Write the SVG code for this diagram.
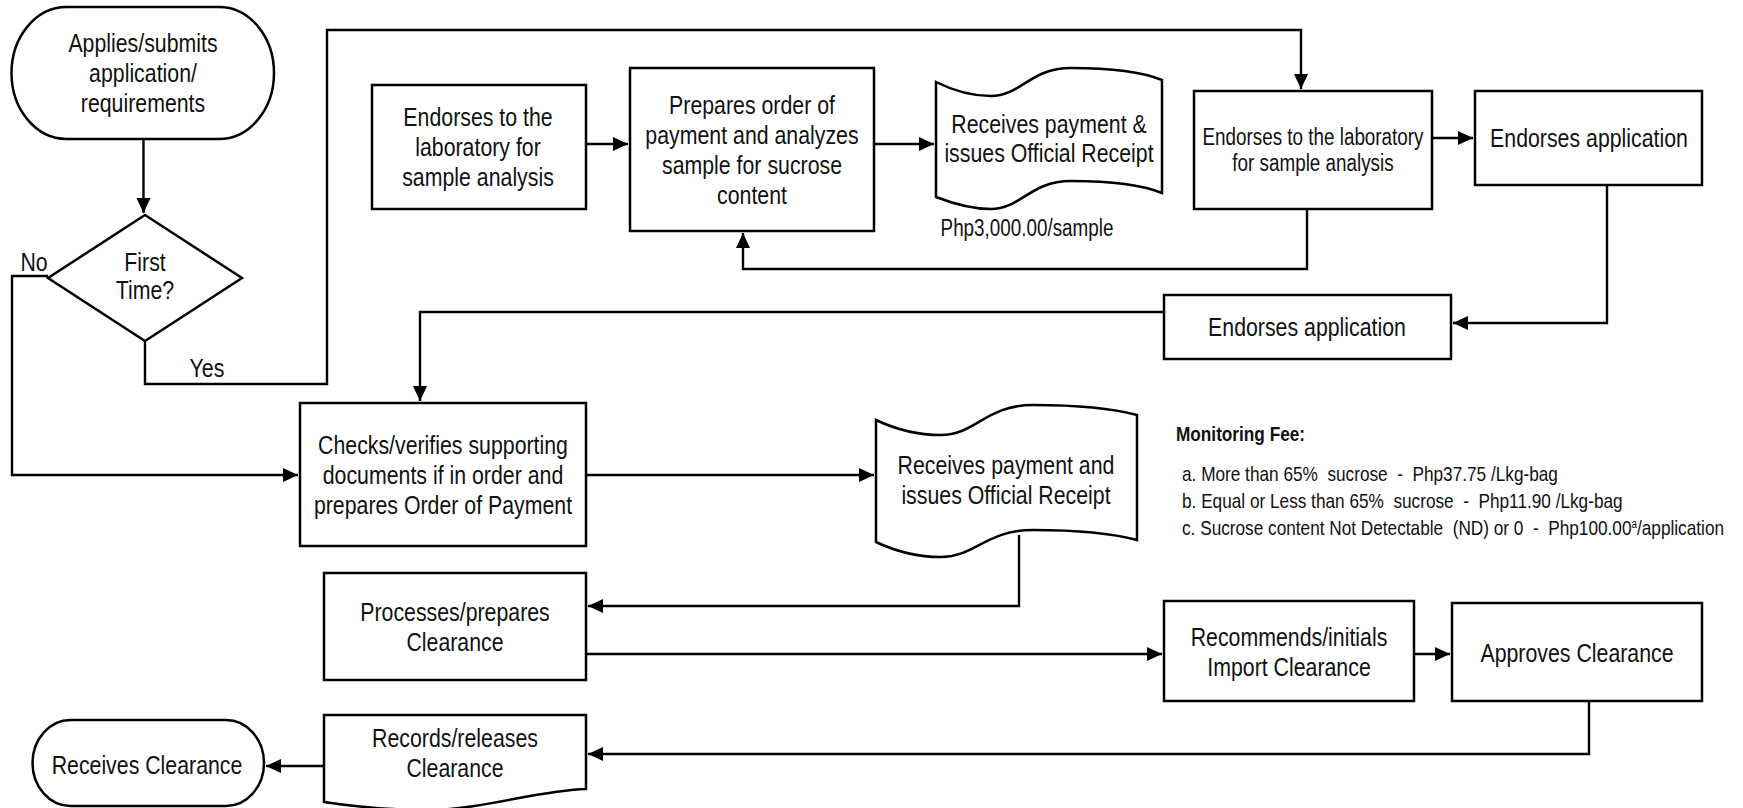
<svg xmlns="http://www.w3.org/2000/svg" width="1743" height="808" viewBox="0 0 1743 808">
<style>
.n{fill:#fff;stroke:#000;stroke-width:2.5}
.t{font-family:"Liberation Sans Narrow","Arial Narrow","Liberation Sans",sans-serif;font-size:26px;fill:#111;text-anchor:middle}
.s{font-size:23px}
.c{fill:none;stroke:#000;stroke-width:2.4}
.f{font-family:"Liberation Sans Narrow","Arial Narrow","Liberation Sans",sans-serif;font-size:21px;fill:#111;white-space:pre}
</style>
<defs>
<marker id="ar" markerUnits="userSpaceOnUse" markerWidth="16" markerHeight="16" viewBox="0 0 16 16" refX="15" refY="8" orient="auto">
<path d="M0,1 L15,8 L0,15 Z" fill="#000"/>
</marker>
</defs>
<rect width="1743" height="808" fill="#fff"/>
<g id="connectors">
<path class="c" d="M143.5,139 V213" marker-end="url(#ar)"/>
<path class="c" d="M145,341 V384 H327 V30 H1301 V89" marker-end="url(#ar)"/>
<path class="c" d="M48,276 H12 V475 H298" marker-end="url(#ar)"/>
<path class="c" d="M586,144 H628" marker-end="url(#ar)"/>
<path class="c" d="M874,144 H934" marker-end="url(#ar)"/>
<path class="c" d="M1307,209 V269 H743 V233" marker-end="url(#ar)"/>
<path class="c" d="M1432,138 H1473" marker-end="url(#ar)"/>
<path class="c" d="M1607,185 V323 H1453" marker-end="url(#ar)"/>
<path class="c" d="M1164,312 H420 V401" marker-end="url(#ar)"/>
<path class="c" d="M586,475 H874" marker-end="url(#ar)"/>
<path class="c" d="M1019,535 V606 H588" marker-end="url(#ar)"/>
<path class="c" d="M586,654 H1162" marker-end="url(#ar)"/>
<path class="c" d="M1414,654 H1450" marker-end="url(#ar)"/>
<path class="c" d="M1589,701 V754 H588" marker-end="url(#ar)"/>
<path class="c" d="M324,766 H266" marker-end="url(#ar)"/>
</g>
<g id="start">
<rect class="n" x="11.5" y="7" width="262.5" height="132" rx="55" ry="66"/>
<text class="t" transform="translate(143,52) scale(.82,1)">Applies/submits</text>
<text class="t" transform="translate(143,82) scale(.82,1)">application/</text>
<text class="t" transform="translate(143,112) scale(.82,1)">requirements</text>
</g>
<g id="decision">
<path class="n" d="M145,215 L242,278 L145,341 L48,278 Z"/>
<text class="t" transform="translate(145,271) scale(.82,1)">First</text>
<text class="t" transform="translate(145,299) scale(.82,1)">Time?</text>
</g>
<g id="labels">
<text class="t" transform="translate(34,271) scale(.82,1)">No</text>
<text class="t" transform="translate(207,377) scale(.82,1)">Yes</text>
</g>
<g id="endorse-lab-1">
<rect class="n" x="372" y="85" width="214" height="124"/>
<text class="t" transform="translate(478,126) scale(.82,1)">Endorses to the</text>
<text class="t" transform="translate(478,156) scale(.82,1)">laboratory for</text>
<text class="t" transform="translate(478,186) scale(.82,1)">sample analysis</text>
</g>
<g id="prepares-order">
<rect class="n" x="630" y="68" width="244" height="163"/>
<text class="t" transform="translate(752,114) scale(.82,1)">Prepares order of</text>
<text class="t" transform="translate(752,144) scale(.82,1)">payment and analyzes</text>
<text class="t" transform="translate(752,174) scale(.82,1)">sample for sucrose</text>
<text class="t" transform="translate(752,204) scale(.82,1)">content</text>
</g>
<g id="receipt-1">
<path class="n" d="M936,82 C954,91 972,96 991,96 C1021,96 1030,68 1071,68 C1105,68 1140,71 1162,80 L1162,193 C1140,184 1105,181 1071,181 C1030,181 1021,209 991,209 C972,209 954,204 936,197 Z"/>
<text class="t" transform="translate(1049,133) scale(.82,1)">Receives payment &amp;</text>
<text class="t" transform="translate(1049,162) scale(.82,1)">issues Official Receipt</text>
<text class="t s" transform="translate(1027,236) scale(.82,1)">Php3,000.00/sample</text>
</g>
<g id="endorse-lab-2">
<rect class="n" x="1194" y="91" width="238" height="118"/>
<text class="t s" transform="translate(1313,145) scale(.82,1)">Endorses to the laboratory</text>
<text class="t s" transform="translate(1313,171) scale(.82,1)">for sample analysis</text>
</g>
<g id="endorse-app-1">
<rect class="n" x="1475" y="91" width="227" height="94"/>
<text class="t" transform="translate(1589,147) scale(.82,1)">Endorses application</text>
</g>
<g id="endorse-app-2">
<rect class="n" x="1164" y="295" width="287" height="64"/>
<text class="t" transform="translate(1307,336) scale(.82,1)">Endorses application</text>
</g>
<g id="checks">
<rect class="n" x="300" y="403" width="286" height="143"/>
<text class="t" transform="translate(443,454) scale(.82,1)">Checks/verifies supporting</text>
<text class="t" transform="translate(443,484) scale(.82,1)">documents if in order and</text>
<text class="t" transform="translate(443,514) scale(.82,1)">prepares Order of Payment</text>
</g>
<g id="receipt-2">
<path class="n" d="M876,420 C897,430 918,435 941,435 C975,435 986,405 1033,405 C1072,405 1111,408 1137,415 L1137,540 C1111,533 1072,530 1033,530 C986,530 975,557 941,557 C918,557 897,552 876,542 Z"/>
<text class="t" transform="translate(1006,474) scale(.82,1)">Receives payment and</text>
<text class="t" transform="translate(1006,504) scale(.82,1)">issues Official Receipt</text>
</g>
<g id="monitoring-fee">
<text class="f" transform="translate(1176,441) scale(.82,1)" font-weight="bold" font-size="22">Monitoring Fee:</text>
<text class="f" transform="translate(1182,481) scale(.82,1)">a. More than 65%  sucrose  -  Php37.75 /Lkg-bag</text>
<text class="f" transform="translate(1182,508) scale(.82,1)">b. Equal or Less than 65%  sucrose  -  Php11.90 /Lkg-bag</text>
<text class="f" transform="translate(1182,535) scale(.82,1)">c. Sucrose content Not Detectable  (ND) or 0  -  Php100.00<tspan font-size="12" dy="-7">a</tspan><tspan dy="7">/application</tspan></text>
</g>
<g id="processes">
<rect class="n" x="324" y="573" width="262" height="107"/>
<text class="t" transform="translate(455,621) scale(.82,1)">Processes/prepares</text>
<text class="t" transform="translate(455,651) scale(.82,1)">Clearance</text>
</g>
<g id="recommends">
<rect class="n" x="1164" y="601" width="250" height="100"/>
<text class="t" transform="translate(1289,646) scale(.82,1)">Recommends/initials</text>
<text class="t" transform="translate(1289,676) scale(.82,1)">Import Clearance</text>
</g>
<g id="approves">
<rect class="n" x="1452" y="603" width="250" height="98"/>
<text class="t" transform="translate(1577,662) scale(.82,1)">Approves Clearance</text>
</g>
<g id="records">
<path class="n" d="M324,715 H586 V789 C540,790 480,810 430,810 C390,810 350,806 324,802 Z"/>
<text class="t" transform="translate(455,747) scale(.82,1)">Records/releases</text>
<text class="t" transform="translate(455,777) scale(.82,1)">Clearance</text>
</g>
<g id="end">
<rect class="n" x="32.5" y="720" width="231.5" height="86" rx="38" ry="43"/>
<text class="t" transform="translate(147,774) scale(.82,1)">Receives Clearance</text>
</g>
</svg>
